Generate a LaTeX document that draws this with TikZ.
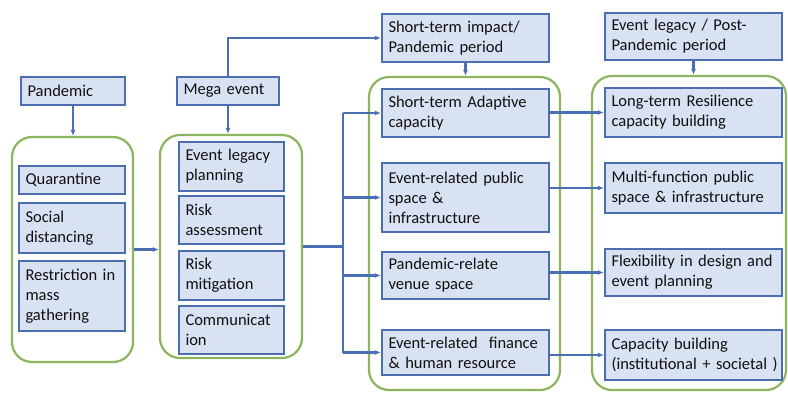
\documentclass[tikz,border=0pt]{standalone}
\usepackage{fontspec}
\setmainfont{Carlito}
\usetikzlibrary{arrows.meta}
\definecolor{bfill}{HTML}{D9E2F3}
\definecolor{bdraw}{HTML}{4A6EB0}
\definecolor{gline}{HTML}{8DB55E}
\definecolor{aline}{HTML}{4A6FB5}
\definecolor{tcol}{HTML}{101010}
\tikzset{
  bx/.style={draw=bdraw, fill=bfill, line width=2.2pt, rectangle, inner xsep=6.5pt, inner ysep=0pt,
    align=left, text=tcol, font=\fontsize{16.5pt}{20pt}\selectfont},
  grp/.style={draw=gline, line width=2.2pt, rectangle, rounded corners=20pt, inner sep=0pt},
  arr/.style={draw=aline, line width=2.2pt, -{Latex[length=6pt,width=5pt]}},
  ln/.style={draw=aline, line width=2.2pt},
}
\newcommand\mybox[6]{%
  \pgfmathsetmacro\bw{#4-#2}\pgfmathsetmacro\bh{#5-#3}%
  \pgfmathsetmacro\tw{\bw-13}%
  \node[bx, minimum width=\bw pt, minimum height=\bh pt, text width=\tw pt] (#1) at ({(#2+#4)/2},{(#3+#5)/2}) {#6};}
\newcommand\mygroup[5]{%
  \pgfmathsetmacro\bw{#4-#2}\pgfmathsetmacro\bh{#5-#3}%
  \node[grp, minimum width=\bw pt, minimum height=\bh pt] (#1) at ({(#2+#4)/2},{(#3+#5)/2}) {};}
\begin{document}
\begin{tikzpicture}[x=1pt,y=-1pt]
\useasboundingbox[fill=white] (0,0) rectangle (788,392);
% groups
\mygroup{g1}{12}{137}{133}{362}
\mygroup{g2}{160}{135}{302}{358}
\mygroup{g3}{369}{77}{560}{390}
\mygroup{g4}{592}{76}{786}{390}
% headers
\mybox{pand}{21}{77}{125}{105}{Pandemic}
\mybox{mega}{177}{77}{279}{105}{Mega event}
\mybox{sti}{382}{14}{549}{62}{Short-term impact/\\Pandemic period}
\mybox{elp}{605}{13}{782}{60}{Event legacy / Post-\\Pandemic period}
% column 1
\mybox{quar}{19}{166}{125}{194}{Quarantine}
\mybox{soc}{19}{203}{125}{253}{Social\\distancing}
\mybox{res}{19}{261}{125}{331}{Restriction in\\mass\\gathering}
% column 2
\mybox{elpl}{179}{142}{284}{191}{Event legacy\\planning}
\mybox{ras}{179}{196}{284}{244}{Risk\\assessment}
\mybox{rmi}{179}{251}{284}{300}{Risk\\mitigation}
\mybox{com}{179}{306}{284}{354}{Communicat\\ion}
% column 3
\mybox{sta}{382}{89}{549}{137}{Short-term Adaptive\\capacity}
\mybox{erp}{382}{163}{549}{232}{Event-related public\\space \&\\infrastructure}
\mybox{prv}{382}{252}{549}{299}{Pandemic-relate\\venue space}
\mybox{erf}{382}{330}{549}{375}{Event-related~ finance\\\& human resource}
% column 4
\mybox{ltr}{605}{88}{782}{137}{Long-term Resilience\\capacity building}
\mybox{mf}{605}{163}{782}{213}{Multi-function public\\space \& infrastructure}
\mybox{flx}{605}{249}{782}{296}{Flexibility in design and\\event planning}
\mybox{cb}{605}{330}{782}{380}{Capacity building\\\mbox{(institutional + societal )}}
% connectors
\draw[arr] (pand.south) -- (pand.south |- g1.north);
\draw[arr] (mega.south) -- (mega.south |- g2.north);
\draw[arr] (sti.south) -- (sti.south |- g3.north);
\draw[arr] (elp.south) -- (elp.south |- g4.north);
\draw[arr] (mega.north) -- (mega.north |- sti.west) -- (sti.west);
\draw[arr] (g1.east) -- (g1.east -| g2.west);
\draw[ln] (g2.east) -- ++(40,0) coordinate (br);
\draw[ln] (br |- sta.west) -- (br |- erf.west);
\draw[arr] (br |- sta.west) -- (sta.west);
\draw[arr] (br |- erp.west) -- (erp.west);
\draw[arr] (br |- prv.west) -- (prv.west);
\draw[arr] (br |- erf.west) -- (erf.west);
\draw[arr] (sta.east |- ltr.west) -- (ltr.west);
\draw[arr] (erp.east |- mf.west) -- (mf.west);
\draw[arr] (prv.east |- flx.west) -- (flx.west);
\draw[arr] (erf.east |- cb.west) -- (cb.west);
\end{tikzpicture}
\end{document}
